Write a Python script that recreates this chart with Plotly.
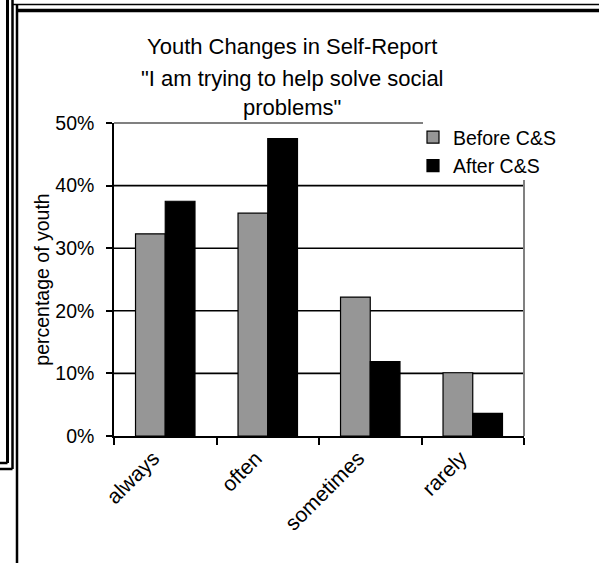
import plotly.graph_objects as go

# Survey responses
categories = ["always", "often", "sometimes", "rarely"]
before_cs = [32.3, 35.6, 22.2, 10.1]
after_cs = [37.5, 47.5, 11.9, 3.6]
y_ticks = [0, 10, 20, 30, 40, 50]
y_tick_labels = ["0%", "10%", "20%", "30%", "40%", "50%"]
grid_values = [10, 20, 30, 40]

title_lines = [
    "Youth Changes in Self-Report",
    "\"I am trying to help solve social",
    "problems\"",
]

FONT = "Arial, 'Liberation Sans', sans-serif"
W, H = 599, 563
# plot-area edges in pixels
PL, PR, PT, PB = 114, 524, 123, 436


def px(x):
    return (x - PL) / (PR - PL)


def py(y):
    return (PB - y) / (PB - PT)


fig = go.Figure()
fig.add_trace(go.Bar(
    x=categories, y=before_cs, name="Before C&S",
    marker=dict(color="#969696", line=dict(color="black", width=1.2)),
))
fig.add_trace(go.Bar(
    x=categories, y=after_cs, name="After C&S",
    marker=dict(color="black", line=dict(color="black", width=1.2)),
))

annotations = []
for text, ypix in zip(title_lines, [47, 78, 108]):
    annotations.append(dict(
        text=text, x=px(292), y=py(ypix), xref="paper", yref="paper",
        xanchor="center", yanchor="middle", showarrow=False,
        font=dict(family=FONT, size=22, color="black"),
    ))

shapes = []

# horizontal gridlines behind the bars
for g in grid_values:
    shapes.append(dict(
        type="line", xref="paper", yref="y", x0=0, x1=1, y0=g, y1=g,
        line=dict(color="black", width=1.6), layer="below",
    ))


def line(x0, y0, x1, y1, color="black", width=2, layer="above"):
    shapes.append(dict(
        type="line", xref="paper", yref="paper",
        x0=px(x0), y0=py(y0), x1=px(x1), y1=py(y1),
        line=dict(color=color, width=width), layer=layer,
    ))


# grey plot-area frame (top and right), interrupted by the legend
line(PL, PT, 423, PT, color="#808080", width=2)
line(PR, 180, PR, PB, color="#808080", width=2)

# page frame lines
line(7.5, 0, 7.5, 463, width=3)
line(12.5, 0, 12.5, 469, width=2.5)
line(0, 463, 7.5, 463, width=2.5)
line(0, 469, 12.5, 469, width=2.5)
line(17, 4, 17, 563, width=2.5)
line(12.5, 4.5, 599, 4.5, width=1.5)
line(17, 10.5, 599, 10.5, width=3.5)

fig.update_layout(
    width=W, height=H,
    margin=dict(l=PL, r=W - PR, t=PT, b=H - PB, pad=0),
    paper_bgcolor="white", plot_bgcolor="white",
    font=dict(family=FONT, size=20, color="black"),
    barmode="group", bargap=0.42, bargroupgap=0,
    showlegend=True,
    legend=dict(
        x=px(413), y=py(118), xanchor="left", yanchor="top",
        bgcolor="rgba(0,0,0,0)", borderwidth=0,
        font=dict(family=FONT, size=19.5, color="black"),
        itemclick=False,
    ),
    annotations=annotations,
    shapes=shapes,
    xaxis=dict(
        type="category", showline=True, linecolor="black", linewidth=1.5,
        ticks="outside", tickson="boundaries", ticklen=7, tickwidth=1.5,
        tickcolor="black", tickangle=-45, showgrid=False,
        ticklabelshift=-12,
        tickfont=dict(family=FONT, size=21, color="black"),
    ),
    yaxis=dict(
        range=[0, 50], tickvals=y_ticks, ticktext=y_tick_labels,
        showline=True, linecolor="black", linewidth=1.5,
        ticks="outside", ticklen=6, tickwidth=1.5, tickcolor="black",
        showgrid=False, zeroline=False,
        ticklabelstandoff=8,
        tickfont=dict(family=FONT, size=19.5, color="black"),
        title=dict(text="percentage of youth", standoff=0,
                   font=dict(family=FONT, size=19.5, color="black")),
    ),
)

fig.write_html("out.html")
